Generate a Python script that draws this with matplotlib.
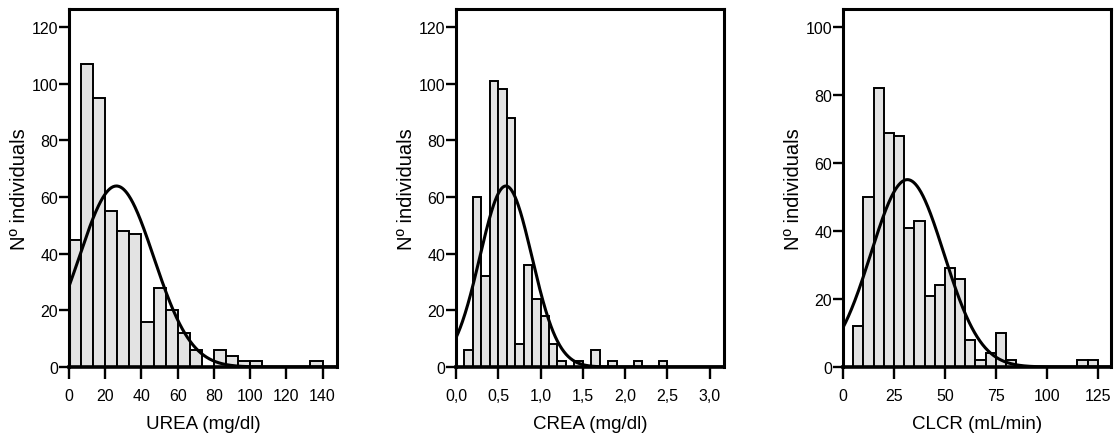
import matplotlib
matplotlib.use('Agg')
import matplotlib.pyplot as plt
import numpy as np

plt.rcParams['font.family'] = ['Liberation Sans', 'DejaVu Sans']

# histogram counts per bin (same 495 individuals in every panel)
urea_counts = [45, 107, 95, 55, 48, 47, 16, 28, 20, 12, 6, 0, 6, 4, 2, 2, 0, 0, 0, 0, 2]
urea_bin_width = 20 / 3
urea_mean, urea_sd = 26.2, 20.6

crea_counts = [0, 6, 60, 32, 101, 98, 88, 8, 36, 24, 18, 8, 2, 0, 2, 0, 6, 0, 2, 0, 0, 2, 0, 0, 2]
crea_bin_width = 0.1
crea_mean, crea_sd = 0.59, 0.309

clcr_counts = [0, 12, 50, 82, 69, 68, 41, 43, 21, 24, 29, 26, 8, 2, 4, 10, 2, 0, 0, 0, 0, 0, 0, 2, 2]
clcr_bin_width = 5
clcr_mean, clcr_sd = 31.6, 17.9

urea_xticks = [0, 20, 40, 60, 80, 100, 120, 140]
crea_xticks = [0.0, 0.5, 1.0, 1.5, 2.0, 2.5, 3.0]
crea_xticklabels = ['0,0', '0,5', '1,0', '1,5', '2,0', '2,5', '3,0']
clcr_xticks = [0, 25, 50, 75, 100, 125]

panels = [
    dict(counts=urea_counts, w=urea_bin_width, mean=urea_mean, sd=urea_sd,
         xlabel='UREA (mg/dl)', xticks=urea_xticks, xticklabels=[str(t) for t in urea_xticks],
         xmax=148, yticks=range(0, 121, 20), ymax=126.4, left=69),
    dict(counts=crea_counts, w=crea_bin_width, mean=crea_mean, sd=crea_sd,
         xlabel='CREA (mg/dl)', xticks=crea_xticks, xticklabels=crea_xticklabels,
         xmax=3.17, yticks=range(0, 121, 20), ymax=126.4, left=456),
    dict(counts=clcr_counts, w=clcr_bin_width, mean=clcr_mean, sd=clcr_sd,
         xlabel='CLCR (mL/min)', xticks=clcr_xticks, xticklabels=[str(t) for t in clcr_xticks],
         xmax=131.5, yticks=range(0, 101, 20), ymax=105.4, left=843),
]

W, H = 1120, 439
fig = plt.figure(figsize=(W / 100, H / 100), dpi=100)

for p in panels:
    ax = fig.add_axes([p['left'] / W, (H - 368) / H, 268 / W, 358 / H])
    counts = np.array(p['counts'])
    edges = np.arange(len(counts) + 1) * p['w']
    ax.bar(edges[:-1], counts, width=p['w'], align='edge',
           color='#e3e3e3', edgecolor='black', linewidth=1.4, zorder=2)

    # fitted normal curve scaled to counts
    n = counts.sum()
    x = np.linspace(0, p['xmax'], 500)
    y = n * p['w'] / (p['sd'] * np.sqrt(2 * np.pi)) * np.exp(-(x - p['mean']) ** 2 / (2 * p['sd'] ** 2))
    ax.plot(x, y, color='black', linewidth=2.2, zorder=3)

    ax.set_xlim(0, p['xmax'])
    ax.set_ylim(0, p['ymax'])
    ax.set_xticks(p['xticks'])
    ax.set_xticklabels(p['xticklabels'])
    ax.set_yticks(list(p['yticks']))
    for s in ax.spines.values():
        s.set_linewidth(2.2)
    ax.spines['bottom'].set_linewidth(2.6)
    ax.tick_params(axis='x', length=8.5, width=1.7, pad=6.5, labelsize=11.5)
    ax.tick_params(axis='y', length=7, width=1.7, pad=0.8, labelsize=11.5)
    ax.set_xlabel(p['xlabel'], fontsize=13.5, labelpad=9)
    ax.set_ylabel('Nº individuals', fontsize=14.5, labelpad=2)

fig.savefig('out.png', dpi=100)
